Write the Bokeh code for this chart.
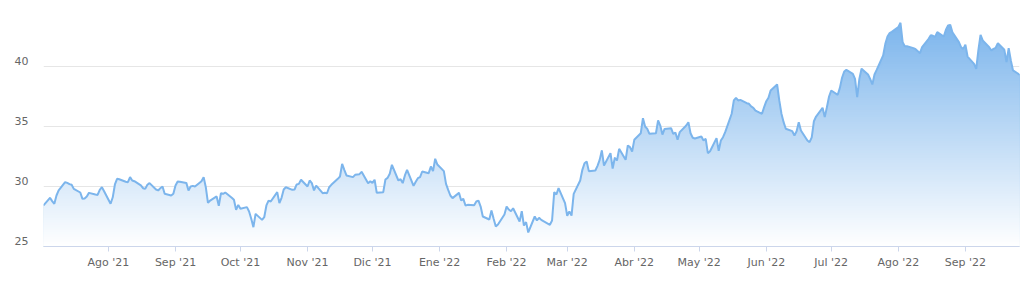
import numpy as np
import pandas as pd
from bokeh.plotting import figure
from bokeh.models import FixedTicker, Range1d
from bokeh.embed import file_html
from bokeh.resources import INLINE

# daily closing values, starting 2021-07-02, business days
values = [
    28.42, 29.06, 28.78, 28.56, 29.25, 29.67, 30.36, 30.3, 30.2, 30.14, 29.8, 29.5,
    28.97, 29.0, 29.17, 29.47, 29.33, 29.3, 29.72, 29.94, 29.61, 28.56, 29.1, 30.17,
    30.64, 30.6, 30.4, 30.36, 30.78, 30.5, 30.44, 30.1, 29.86, 29.8, 30.14, 30.28,
    29.75, 29.67, 29.86, 30.0, 29.39, 29.25, 29.39, 30.08, 30.42, 30.4, 30.3, 29.67,
    30.0, 30.05, 30.0, 30.44, 30.78, 29.94, 28.64, 28.83, 29.17, 28.39, 29.44, 29.39,
    29.5, 29.06, 28.89, 28.06, 28.47, 28.14, 28.28, 27.92, 27.31, 26.61, 27.72, 27.22,
    27.44, 28.42, 28.83, 28.75, 29.53, 28.61, 29.06, 29.75, 29.94, 29.72, 29.75, 30.17,
    30.22, 30.56, 30.0, 30.5, 30.28, 29.67, 30.08, 29.44, 29.47, 29.44, 29.94, 30.14,
    30.64, 30.83, 31.89, 31.39, 30.92, 30.78, 30.97, 31.0, 31.03, 31.22, 30.28, 30.44,
    30.3, 30.56, 29.47, 29.53, 30.58, 30.72, 31.06, 31.81, 30.5, 30.61, 30.28, 30.92,
    31.39, 30.05, 30.39, 30.69, 30.78, 31.25, 31.11, 31.67, 31.28, 32.31, 31.83, 31.28,
    30.22, 29.72, 29.25, 29.03, 29.47, 28.83, 28.97, 28.42, 28.47, 28.44, 28.75,
    28.83, 28.33, 27.5, 27.25, 28.0, 27.31, 26.67, 26.83, 27.67, 28.33, 28.08, 27.94,
    28.19, 27.08, 27.94, 26.75, 27.03, 26.17, 27.5, 27.17, 27.39, 27.22, 27.11, 26.81,
    27.17, 29.53, 29.33, 29.86, 28.61, 27.56, 27.92, 27.58, 29.39, 30.5, 31.39, 31.94,
    32.08, 31.28, 31.33, 31.72, 32.22, 33.0, 31.75, 32.78, 31.5, 32.39, 32.17, 33.14,
    32.22, 33.42, 33.28, 32.92, 33.89, 34.44, 35.69, 35.0, 34.8, 34.39, 34.44, 35.5,
    35.08, 34.33, 34.8, 34.86, 34.39, 34.5, 33.89, 34.53, 35.08, 35.36, 34.44, 34.06,
    34.0, 34.17, 33.83, 33.97, 32.78, 32.94, 34.03, 32.97, 33.83, 34.11, 34.53, 36.06,
    37.17, 37.39, 37.17, 37.22, 36.94, 36.89, 36.67, 36.56, 36.33, 36.06, 36.61, 37.11,
    37.39, 38.0, 38.5, 37.17, 36.06, 35.36, 34.81, 34.61, 34.25, 34.61, 35.36, 34.67,
    33.83, 33.69, 34.1, 35.44, 35.83, 36.56, 35.78, 36.61, 37.5, 38.0, 37.64, 38.22,
    39.06, 39.58, 39.72, 39.39, 38.97, 37.44, 38.97, 39.81, 39.33, 38.97, 38.5, 39.33,
    39.72, 40.92, 41.89, 42.5, 42.78, 42.89, 43.28, 43.64, 42.03, 41.69, 41.69, 41.53,
    41.44, 41.28, 41.11, 41.61, 42.31, 42.61, 42.56, 42.47, 42.86, 42.5, 43.06, 43.42,
    43.47, 42.86, 42.03, 41.61, 41.47, 41.81, 40.83, 40.22, 39.81, 41.36, 42.64, 42.17,
    41.61, 41.33, 41.47, 41.56, 41.94, 41.39, 40.36, 41.53, 40.5, 39.67, 39.33,
]
start_date = "2021-07-02"

month_starts = ["2021-08-01", "2021-09-01", "2021-10-01", "2021-11-01", "2021-12-01",
                "2022-01-01", "2022-02-01", "2022-03-01", "2022-04-01", "2022-05-01",
                "2022-06-01", "2022-07-01", "2022-08-01", "2022-09-01"]
month_labels = ["Ago '21", "Sep '21", "Oct '21", "Nov '21", "Dic '21", "Ene '22", "Feb '22",
                "Mar '22", "Abr '22", "May '22", "Jun '22", "Jul '22", "Ago '22", "Sep '22"]
y_tick_values = [25, 30, 35, 40]
y_grid_values = [25, 30, 35, 40, 45]

dates = pd.bdate_range(start_date, periods=len(values))
v = np.array(values, dtype=float)

p = figure(width=1022, height=282, x_axis_type="datetime", output_backend="svg",
           toolbar_location=None, x_range=Range1d(dates[0], dates[-1]),
           y_range=Range1d(25, 45), min_border_left=43, min_border_right=3,
           min_border_top=6, min_border_bottom=36)
p.outline_line_color = None
p.background_fill_color = "white"

# gradient area: stacked layers, darker at top fading to white at the bottom
vmax = v.max()
step = 0.2
base = np.full_like(v, 25.0)
levels = np.arange(25 + step, vmax + step, step)[::-1]
c = np.array([124, 181, 236], dtype=float)
for hi in levels:
    mid = hi - step / 2
    t = np.clip((vmax - mid) / (vmax - 25), 0, 1)
    rgb = c + (255 - c) * t
    col = "#%02x%02x%02x" % tuple(int(round(x)) for x in rgb)
    p.varea(x=dates, y1=base, y2=np.minimum(v, hi), fill_color=col, fill_alpha=1.0)

p.line(dates, v, line_color="#7cb5ec", line_width=2)

# x axis
xt = [float(pd.Timestamp(d).value // 10**6) for d in month_starts]
p.xaxis.ticker = FixedTicker(ticks=xt)
p.xaxis.major_label_overrides = {t: lab for t, lab in zip(xt, month_labels)}
p.xaxis.axis_line_color = "#ccd6eb"
p.xaxis.major_tick_line_color = "#ccd6eb"
p.xaxis.major_tick_out = 5
p.xaxis.major_tick_in = 0
p.xaxis.minor_tick_line_color = None
p.xaxis.major_label_text_font = "DejaVu Sans"
p.xaxis.major_label_text_font_size = "11px"
p.xaxis.major_label_text_color = "#666666"
p.xaxis.major_label_standoff = 4

# y axis (labels sit slightly above their grid lines)
lab_off = 0.5
yt = [t + lab_off for t in y_tick_values]
p.yaxis.ticker = FixedTicker(ticks=yt)
p.yaxis.major_label_overrides = {t + lab_off: str(t) for t in y_tick_values}
p.yaxis.axis_line_color = None
p.yaxis.major_tick_line_color = None
p.yaxis.minor_tick_line_color = None
p.yaxis.major_tick_out = 0
p.yaxis.major_tick_in = 0
p.yaxis.major_label_standoff = 15
p.yaxis.major_label_text_font = "DejaVu Sans"
p.yaxis.major_label_text_font_size = "11px"
p.yaxis.major_label_text_color = "#666666"

p.xgrid.visible = False
p.ygrid.ticker = FixedTicker(ticks=y_grid_values)
p.ygrid.grid_line_color = "#e6e6e6"
p.ygrid.grid_line_width = 1

open("out.html", "w").write(file_html(p, INLINE))
